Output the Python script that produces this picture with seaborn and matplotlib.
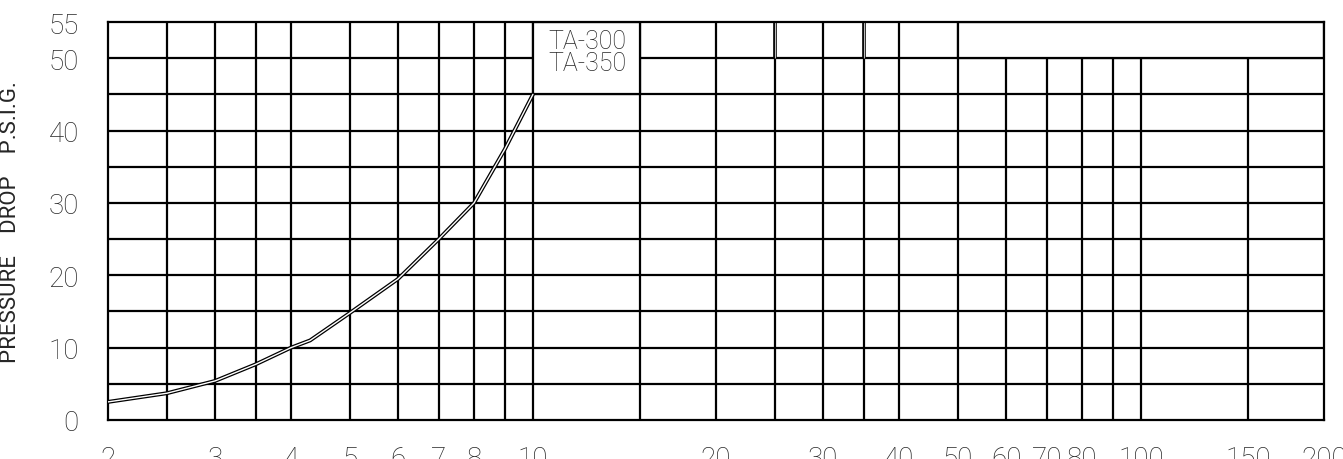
import matplotlib
matplotlib.use("Agg")
import matplotlib.pyplot as plt
import seaborn as sns
import pandas as pd
from matplotlib.patches import Rectangle
from matplotlib.ticker import FixedLocator, FixedFormatter, NullFormatter

# === datos ===
flow = [2, 2.5, 3, 3.5, 4, 4.3, 5, 6, 7, 8, 9, 10]
pressure = [2.5, 3.7, 5.4, 7.7, 10, 11, 14.8, 19.5, 25, 30, 37.5, 45]

x_tick_vals = [2, 3, 4, 5, 6, 7, 8, 10, 20, 30, 40, 50, 60, 70, 80, 100, 150, 200]
x_tick_labels = ["2", "3", "4", "5", "6", "7", "8", "10", "20", "30", "40", "50",
                 "60", "70", "80", "100", "150", "200"]
x_grid_vals = [2.5, 3, 3.5, 4, 5, 6, 7, 8, 9, 10, 15, 20, 25, 30, 35, 40, 50,
               60, 70, 80, 90, 100, 150]
y_tick_vals = [0, 10, 20, 30, 40, 50, 55]
y_grid_vals = [5, 10, 15, 20, 25, 30, 35, 40, 45, 50]
series_label = "TA-300\nTA-350"

df = pd.DataFrame({"flow": flow, "pressure": pressure})

sns.set_style("white")
plt.rcParams["font.family"] = ["Roboto", "DejaVu Sans"]
plt.rcParams["font.weight"] = "light"

fig = plt.figure(figsize=(13.43, 4.6), dpi=100)
ax = fig.add_axes([108 / 1343, 39 / 460, 1216 / 1343, 398 / 460])

ax.set_xscale("log")
ax.set_xlim(2, 200)
ax.set_ylim(0, 55)

# rejilla tipo CAD
grid_kw = dict(color="black", linewidth=1.6, zorder=0.5)
for xv in x_grid_vals:
    ax.axvline(xv, **grid_kw)
for yv in y_grid_vals:
    ax.axhline(yv, **grid_kw)

# zonas en blanco (arriba a la derecha y cuadro de la etiqueta)
ax.add_patch(Rectangle((50, 50), 150, 5, facecolor="white", edgecolor="black",
                       linewidth=1.6, zorder=1))
ax.add_patch(Rectangle((10, 45), 5, 10, facecolor="white", edgecolor="black",
                       linewidth=1.6, zorder=1))
# lineas dobles en la fila superior
ax.vlines([25, 35], 50, 55, color="black", linewidth=2.6, zorder=1.2)
ax.vlines([25, 35], 50, 55, color="#bbbbbb", linewidth=0.8, zorder=1.3)

ax.text(12.3, 50.9, series_label, ha="center", va="center", fontsize=18,
        linespacing=0.9, zorder=2)

# curva doble
sns.lineplot(data=df, x="flow", y="pressure", ax=ax, color="black",
             linewidth=2.8, zorder=3, sort=False)
sns.lineplot(data=df, x="flow", y="pressure", ax=ax, color="white",
             linewidth=1.0, zorder=4, sort=False)

ax.xaxis.set_major_locator(FixedLocator(x_tick_vals))
ax.xaxis.set_major_formatter(FixedFormatter(x_tick_labels))
ax.xaxis.set_minor_locator(FixedLocator([]))
ax.xaxis.set_minor_formatter(NullFormatter())
ax.yaxis.set_major_locator(FixedLocator(y_tick_vals))
ax.set_yticklabels([str(v) for v in y_tick_vals])

ax.tick_params(axis="both", length=0, labelsize=20)
ax.tick_params(axis="x", pad=18)
ax.tick_params(axis="y", pad=21)

ax.set_xlabel("")
ax.set_ylabel("PRESSURE    DROP    P.S.I.G.", fontsize=16, labelpad=20)

for s in ax.spines.values():
    s.set_color("black")
    s.set_linewidth(1.6)
    s.set_visible(True)

plt.savefig("out.png", dpi=100)
plt.close()
